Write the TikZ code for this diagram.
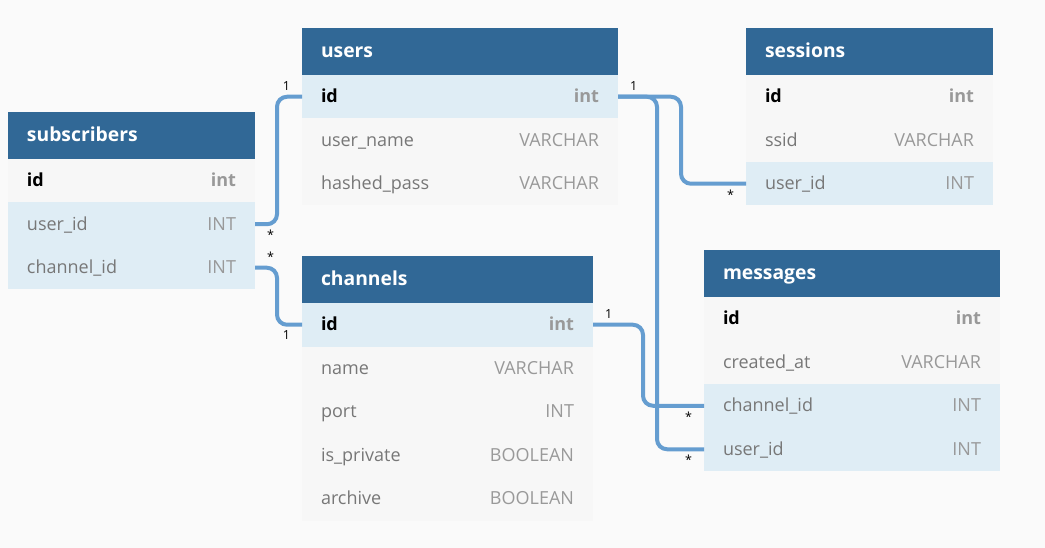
\documentclass[tikz,border=0pt]{standalone}
\usepackage{fontspec}
\setmainfont{Open Sans}
\usepackage{xcolor}
\usetikzlibrary{positioning}
\definecolor{hdrblue}{HTML}{316896}
\definecolor{rowgray}{HTML}{F7F7F7}
\definecolor{keyblue}{HTML}{DFEDF5}
\definecolor{bggray}{HTML}{FAFAFA}
\definecolor{linkblue}{HTML}{659DD0}
\definecolor{namegray}{HTML}{777777}
\definecolor{typegray}{HTML}{999999}
\newcommand{\coltype}[1]{{\color{typegray}#1}}
\newcommand{\pkey}[2]{{\color{black}\bfseries #1}\hfill{\color{typegray}\bfseries #2}}

\begin{document}
\begin{tikzpicture}[x=1pt, y=-1pt,
  hdr/.style={fill=hdrblue, text=white, text width=#1, minimum height=47pt,
              inner xsep=19pt, inner ysep=0pt, outer sep=0pt, anchor=north west,
              font=\fontsize{19.3}{21}\selectfont\bfseries, text height=15pt, text depth=2pt},
  row/.style={fill=rowgray, text=namegray, text width=#1, minimum height=43.5pt,
              inner xsep=19pt, inner ysep=0pt, outer sep=0pt,
              font=\fontsize{18}{20}\selectfont, text height=14pt, text depth=2pt},
  keyrow/.style={row=#1, fill=keyblue},
  link/.style={draw=linkblue, line width=4pt, rounded corners=10pt},
  card/.style={font=\fontsize{12.5}{12}\selectfont, text=black, inner sep=1pt},
]
\path[fill=bggray, use as bounding box] (0,0) rectangle (1045,548);

% subscribers
\node[hdr=209pt] (s-hdr) at (8,112) {subscribers};
\node[row=209pt, below=0pt of s-hdr] (s-id) {\pkey{id}{int}};
\node[keyrow=209pt, below=0pt of s-id] (s-uid) {user\_id\hfill\coltype{INT}};
\node[keyrow=209pt, below=0pt of s-uid] (s-cid) {channel\_id\hfill\coltype{INT}};

% users
\node[hdr=278pt] (u-hdr) at (302,28) {users};
\node[keyrow=278pt, below=0pt of u-hdr] (u-id) {\pkey{id}{int}};
\node[row=278pt, below=0pt of u-id] (u-name) {user\_name\hfill\coltype{VARCHAR}};
\node[row=278pt, below=0pt of u-name] (u-pass) {hashed\_pass\hfill\coltype{VARCHAR}};

% sessions
\node[hdr=209pt] (se-hdr) at (746,28) {sessions};
\node[row=209pt, below=0pt of se-hdr] (se-id) {\pkey{id}{int}};
\node[row=209pt, below=0pt of se-id] (se-ssid) {ssid\hfill\coltype{VARCHAR}};
\node[keyrow=209pt, below=0pt of se-ssid] (se-uid) {user\_id\hfill\coltype{INT}};

% channels
\node[hdr=253pt] (c-hdr) at (302,256) {channels};
\node[keyrow=253pt, below=0pt of c-hdr] (c-id) {\pkey{id}{int}};
\node[row=253pt, below=0pt of c-id] (c-name) {name\hfill\coltype{VARCHAR}};
\node[row=253pt, below=0pt of c-name] (c-port) {port\hfill\coltype{INT}};
\node[row=253pt, below=0pt of c-port] (c-priv) {is\_private\hfill\coltype{BOOLEAN}};
\node[row=253pt, below=0pt of c-priv] (c-arch) {archive\hfill\coltype{BOOLEAN}};

% messages
\node[hdr=258pt] (m-hdr) at (704,250) {messages};
\node[row=258pt, below=0pt of m-hdr] (m-id) {\pkey{id}{int}};
\node[row=258pt, below=0pt of m-id] (m-date) {created\_at\hfill\coltype{VARCHAR}};
\node[keyrow=258pt, below=0pt of m-date] (m-cid) {channel\_id\hfill\coltype{INT}};
\node[keyrow=258pt, below=0pt of m-cid] (m-uid) {user\_id\hfill\coltype{INT}};

% relations
\draw[link] (s-uid.east) node[card, below right=3pt and 9pt] {*}
  -- ++(22,0) |- (u-id.west) node[card, above left=3pt and 9pt] {1};
\draw[link] (s-cid.east) node[card, above right=3pt and 9pt] {*}
  -- ++(22,0) |- (c-id.west) node[card, below left=3pt and 9pt] {1};
\draw[link] (u-id.east) node[card, above right=3pt and 9pt] {1}
  -- ++(63,0) |- (se-uid.west) node[card, below left=3pt and 9pt] {*};
\draw[link] (u-id.east) -- ++(39,0) |- (m-uid.west) node[card, below left=3pt and 9pt] {*};
\draw[link] (c-id.east) node[card, above right=3pt and 9pt] {1}
  -- ++(50,0) |- (m-cid.west) node[card, below left=3pt and 9pt] {*};
\end{tikzpicture}
\end{document}
